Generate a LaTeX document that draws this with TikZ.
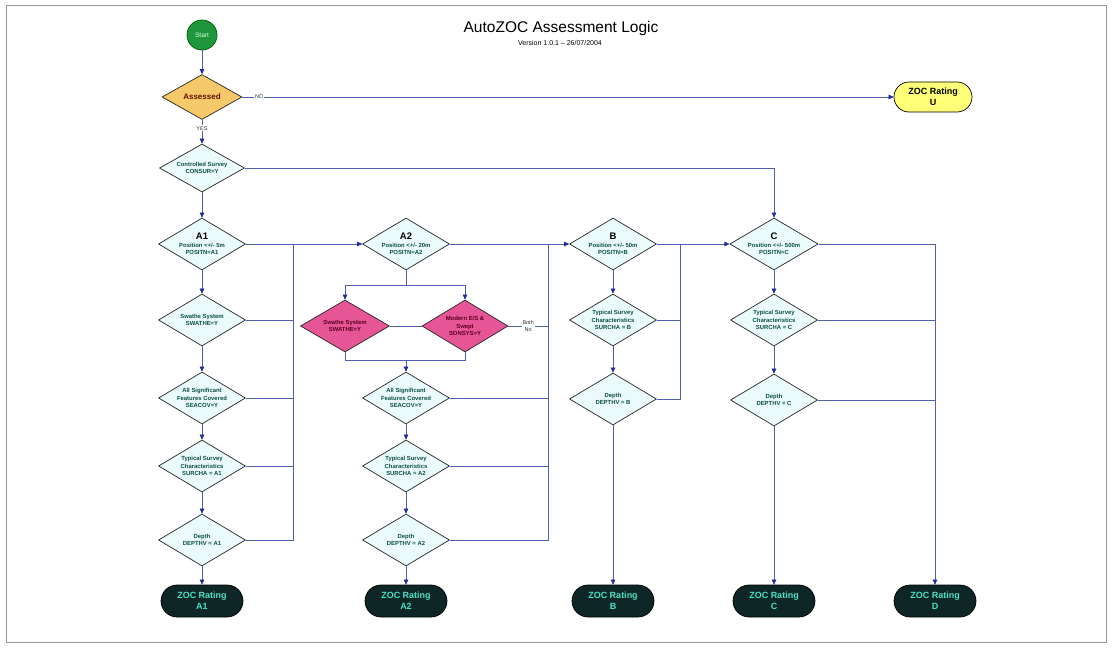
\documentclass[tikz,border=0pt]{standalone}
\usepackage{fontspec}
\setmainfont{Liberation Sans}
\usetikzlibrary{shapes.geometric,shapes.misc,arrows.meta}
\definecolor{lnc}{RGB}{80,95,175}
\definecolor{arc}{RGB}{30,45,160}
\definecolor{dtxt}{RGB}{10,80,70}
\definecolor{dfill}{RGB}{235,250,250}
\definecolor{pfill}{RGB}{230,85,150}
\definecolor{ptxt}{RGB}{90,0,30}
\definecolor{cfill}{RGB}{14,38,38}
\definecolor{ctxt}{RGB}{70,225,200}
\definecolor{ufill}{RGB}{255,255,120}
\definecolor{ofill}{RGB}{245,200,105}
\definecolor{gfill}{RGB}{30,150,60}
\definecolor{frm}{RGB}{150,150,150}
\tikzset{
 dia/.style={diamond, shape aspect=1.7, inner sep=0pt, draw=black!85, line width=0.7pt, fill=dfill, text=dtxt, font=\fontsize{5.9}{7.3}\selectfont\bfseries, align=center, minimum width=87pt, minimum height=52pt},
 pdia/.style={dia, fill=pfill, text=ptxt},
 rate/.style={rounded rectangle, draw=black, line width=0.7pt, fill=cfill, text=ctxt, font=\fontsize{9}{11}\selectfont\bfseries, align=center, minimum width=82pt, minimum height=32pt, inner sep=0pt},
 ln/.style={draw=lnc, line width=0.6pt},
 arr/.style={ln, -{Triangle[length=5pt,width=4.5pt,color=arc]}},
 lab/.style={font=\fontsize{5.5}{6.5}\selectfont, text=black!80, fill=white, inner sep=1pt, align=center},
}
\newcommand{\hdr}[1]{{\fontsize{9.5}{11}\selectfont\color{black}#1}}
\begin{document}
\begin{tikzpicture}[x=1pt,y=-1pt]
\useasboundingbox (0,0) rectangle (1112,648);
\fill[white] (0,0) rectangle (1112,648);
\draw[frm, line width=1pt] (6,5) rectangle (1106,642);

% title
\node[font=\fontsize{15.5}{18}\selectfont] (title) at (561,28) {AutoZOC Assessment Logic};
\node[font=\fontsize{7}{8}\selectfont] (ver) at (560,43) {Version 1.0.1 -- 26/07/2004};

% top
\node[circle, draw=black!60!green, line width=0.8pt, fill=gfill, minimum size=30pt, inner sep=0pt, text=green!15, font=\fontsize{6.5}{7}\selectfont] (start) at (202,35) {Start};
\node[dia, fill=ofill, text={rgb,255:red,100;green,20;blue,0}, minimum width=80pt, minimum height=45pt, font=\fontsize{8}{9}\selectfont\bfseries] (ass) at (202,97) {Assessed};
\node[rate, fill=ufill, text=black, minimum width=78pt, minimum height=30pt] (zu) at (933,97) {ZOC Rating\\U};
\node[dia, minimum width=85pt, minimum height=48pt] (ctl) at (202,168) {Controlled Survey\\CONSUR=Y};

% column A1
\node[dia] (a1) at (202,244) {\hdr{A1}\\Position <+/- 5m\\POSITN=A1};
\node[dia] (sw1) at (202,320) {Swathe System\\SWATHE=Y};
\node[dia] (se1) at (202,398) {All Significant\\Features Covered\\SEACOV=Y};
\node[dia] (su1) at (202,466) {Typical Survey\\Characteristics\\SURCHA = A1};
\node[dia] (de1) at (202,540) {Depth\\DEPTHV = A1};
\node[rate] (r1) at (202,601) {ZOC Rating\\A1};

% column A2
\node[dia] (a2) at (406,244) {\hdr{A2}\\Position <+/- 20m\\POSITN=A2};
\node[pdia, minimum width=89pt] (psw) at (345,326) {Swathe System\\SWATHE=Y};
\node[pdia, minimum width=86pt] (pmo) at (465,326) {Modern E/S \&\\Swept\\SONSYS=Y};
\node[dia] (se2) at (406,398) {All Significant\\Features Covered\\SEACOV=Y};
\node[dia] (su2) at (406,466) {Typical Survey\\Characteristics\\SURCHA = A2};
\node[dia] (de2) at (406,540) {Depth\\DEPTHV = A2};
\node[rate] (r2) at (406,601) {ZOC Rating\\A2};

% column B
\node[dia] (b) at (613,244) {\hdr{B}\\Position <+/- 50m\\POSITN=B};
\node[dia] (sub) at (613,320) {Typical Survey\\Characteristics\\SURCHA = B};
\node[dia] (deb) at (613,399) {Depth\\DEPTHV = B};
\node[rate] (rb) at (613,601) {ZOC Rating\\B};

% column C
\node[dia] (c) at (774,244) {\hdr{C}\\Position <+/- 500m\\POSITN=C};
\node[dia] (suc) at (774,320) {Typical Survey\\Characteristics\\SURCHA = C};
\node[dia] (dec) at (774,400) {Depth\\DEPTHV = C};
\node[rate] (rc) at (774,601) {ZOC Rating\\C};
\node[rate] (rd) at (935,601) {ZOC Rating\\D};

% bus coordinates
\coordinate (bA1) at (293,244);
\coordinate (bA2) at (548,244);
\coordinate (bB) at (680,244);
\coordinate (sp) at (406,285);
\coordinate (mg) at (406,360);

% connectors top
\draw[arr] (start.south) -- (ass.north);
\draw[arr] (ass.east) -- node[lab, pos=0.026] {NO} (zu.west);
\draw[arr] (ass.south) -- node[lab, pos=0.36] {YES} (ctl.north);
\draw[arr] (ctl.south) -- (a1.north);
\draw[arr] (ctl.east) -| (c.north);

% horizontal
\draw[arr] (a1.east) -- (a2.west);
\draw[arr] (a2.east) -- (b.west);
\draw[arr] (b.east) -- (c.west);
\draw[arr] (c.east) -| (rd.north);

% column A1
\draw[arr] (a1.south) -- (sw1.north);
\draw[arr] (sw1.south) -- (se1.north);
\draw[arr] (se1.south) -- (su1.north);
\draw[arr] (su1.south) -- (de1.north);
\draw[arr] (de1.south) -- (r1.north);
\draw[ln] (sw1.east) -| (bA1);
\draw[ln] (se1.east) -| (bA1);
\draw[ln] (su1.east) -| (bA1);
\draw[ln] (de1.east) -| (bA1);

% column A2
\draw[ln] (a2.south) -- (sp);
\draw[arr] (sp) -| (psw.north);
\draw[arr] (sp) -| (pmo.north);
\draw[ln] (psw.east) -- (pmo.west);
\draw[ln] (psw.south) |- (mg);
\draw[ln] (pmo.south) |- (mg);
\draw[arr] (mg) -- (se2.north);
\draw[arr] (se2.south) -- (su2.north);
\draw[arr] (su2.south) -- (de2.north);
\draw[arr] (de2.south) -- (r2.north);
\draw[ln] (pmo.east) -- node[lab] {Both\\No} (pmo.east -| bA2);
\draw[ln] (se2.east) -| (bA2);
\draw[ln] (su2.east) -| (bA2);
\draw[ln] (de2.east) -| (bA2);

% column B
\draw[arr] (b.south) -- (sub.north);
\draw[arr] (sub.south) -- (deb.north);
\draw[arr] (deb.south) -- (rb.north);
\draw[ln] (sub.east) -| (bB);
\draw[ln] (deb.east) -| (bB);

% column C
\draw[arr] (c.south) -- (suc.north);
\draw[arr] (suc.south) -- (dec.north);
\draw[arr] (dec.south) -- (rc.north);
\draw[ln] (suc.east) -- (suc.east -| rd.north);
\draw[ln] (dec.east) -- (dec.east -| rd.north);
\end{tikzpicture}
\end{document}
